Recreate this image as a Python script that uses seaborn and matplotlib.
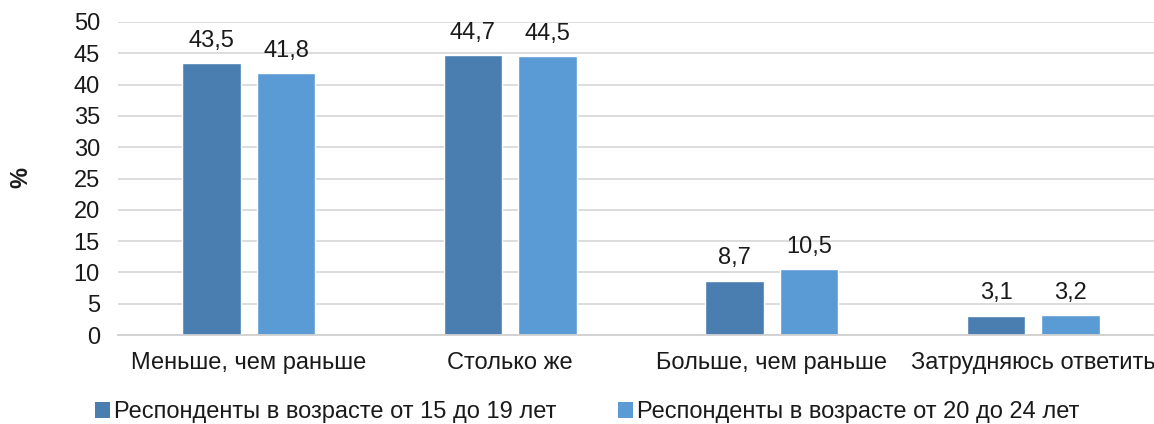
import numpy as np
import pandas as pd
import seaborn as sns
import matplotlib
matplotlib.use("Agg")
import matplotlib.pyplot as plt
from matplotlib.patches import Patch

categories = ["Меньше, чем раньше", "Столько же", "Больше, чем раньше", "Затрудняюсь ответить"]
series_names = ["Респонденты в возрасте от 15 до 19 лет", "Респонденты в возрасте от 20 до 24 лет"]
values_15_19 = [43.5, 44.7, 8.7, 3.1]
values_20_24 = [41.8, 44.5, 10.5, 3.2]
colors = ["#4a7eb0", "#5b9bd5"]
yticks = [0, 5, 10, 15, 20, 25, 30, 35, 40, 45, 50]

df = pd.DataFrame({
    "category": categories * 2,
    "series": [series_names[0]] * 4 + [series_names[1]] * 4,
    "value": values_15_19 + values_20_24,
})

sns.set_theme(style="white")
plt.rcParams["font.family"] = ["Liberation Sans", "DejaVu Sans"]

FS = 17
TXT = "#1a1a1a"
W, H = 1154, 424
fig = plt.figure(figsize=(W / 100, H / 100), dpi=100)
left, right, bottom, top = 118, 1164, 335, 22
ax = fig.add_axes([left / W, (H - bottom) / H, (right - left) / W, (bottom - top) / H])

sns.barplot(data=df, x="category", y="value", hue="series", order=categories,
            hue_order=series_names, palette=colors, width=0.57, gap=0.22,
            saturation=1, ax=ax, legend=False, errorbar=None)

for cont in ax.containers:
    ax.bar_label(cont, labels=[f"{v:.1f}".replace(".", ",") for v in cont.datavalues],
                 padding=8, fontsize=FS, color=TXT)

ax.set_xlim(-0.5, 3.5)
ax.set_ylim(0, 50)
ax.set_yticks(yticks)
ax.set_yticklabels([str(t) for t in yticks], fontsize=FS, color=TXT)
ax.set_xticks(range(len(categories)))
ax.set_xticklabels(categories, fontsize=FS, color=TXT)
ax.set_xticks(np.arange(-0.5, 4.0, 1.0), minor=True)
ax.tick_params(axis="x", which="major", length=0, pad=12)
ax.tick_params(axis="x", which="minor", length=6, color="#bfbfbf", width=1)
ax.tick_params(axis="y", length=0, pad=13)
ax.set_xlabel("")
ax.set_ylabel("")
fig.text(21 / W, (H - 178) / H, "%", rotation=90, ha="center", va="center",
         fontsize=FS, fontweight="bold", color=TXT)

ax.yaxis.grid(True, color="#d9d9d9", linewidth=1.3)
ax.set_axisbelow(True)
for s in ["left", "right", "top"]:
    ax.spines[s].set_visible(False)
ax.spines["bottom"].set_color("#d0d0d0")
ax.spines["bottom"].set_linewidth(1.3)

handles = [Patch(facecolor=c, edgecolor="none") for c in colors]
fig.legend(handles, series_names, loc="center", bbox_to_anchor=(587 / W, 12 / H),
           ncol=2, frameon=False, fontsize=FS, handlelength=0.65, handleheight=0.65,
           handletextpad=0.15, columnspacing=2.6, labelcolor=TXT)

fig.savefig("out.png", dpi=100)
